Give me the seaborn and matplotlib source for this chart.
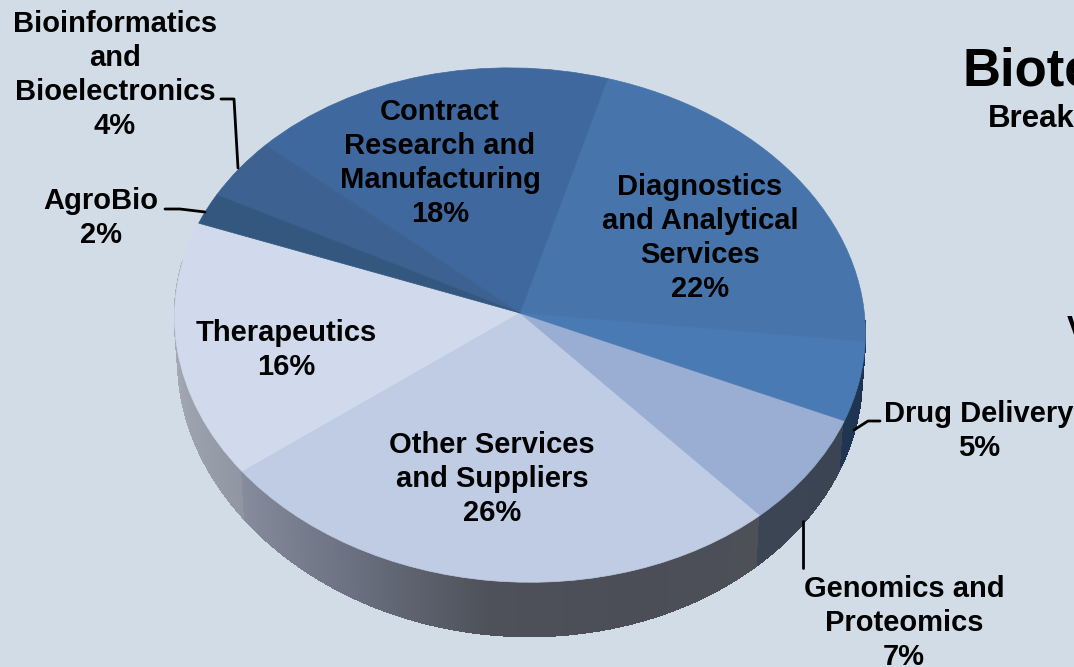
import numpy as np
import matplotlib
matplotlib.use('Agg')
import matplotlib.pyplot as plt
import seaborn as sns
from matplotlib.transforms import Transform

# datos del grafico (sentido antihorario desde Therapeutics)
sectors = ['Therapeutics', 'Other Services\nand Suppliers', 'Genomics and\nProteomics',
           'Drug Delivery', 'Diagnostics\nand Analytical\nServices',
           'Contract\nResearch and\nManufacturing', 'Bioinformatics\nand\nBioelectronics', 'AgroBio']
shares = [16, 26, 7, 5, 22, 18, 4, 2]
top_colors = ['#d0daec', '#bfcce4', '#9aaed4', '#4a7ab4', '#4774aa', '#3f689e', '#3d6190', '#345780']
wall_colors = [['#b0b5bf', '#9097a3'],
               ['#868c9c', '#6b7181', '#4e5159', '#4b4e57', '#4e5058'],
               ['#3b4554', '#3a4453'],
               ['#1f3551', '#1e3350'],
               ['#1e3350', '#1e3350'], [], [], []]

# posiciones de las etiquetas en pixeles
label_pos = [(286, 350), (492, 479), (904, 623), (979, 431), (700, 238), (440, 163), (115, 75), (101, 218)]

W, H = 1074, 667
BG = '#d1dce6'
CX, CY, RX, RY = 520, 313, 345, 256.5
PERSP, TILT = 0.047, 8
START = 161


def project(x, y):
    w = 1 + PERSP * y
    return CX + RX * x / w, CY - RY * y / w + TILT * x


class PieProjection(Transform):
    input_dims = 2
    output_dims = 2

    def transform_non_affine(self, values):
        px, py = project(values[:, 0], values[:, 1])
        return np.column_stack([px, py])


sns.set_theme(style='white')
plt.rcParams['font.family'] = ['Liberation Sans', 'DejaVu Sans']

fig = plt.figure(figsize=(W / 100, H / 100), dpi=100, facecolor=BG)
ax = fig.add_axes([0, 0, 1, 1])

wedges, _ = ax.pie(shares, colors=top_colors, startangle=START, counterclock=True, radius=1,
                   wedgeprops={'linewidth': 0.5})
ax.set_aspect('auto')
ax.set_xlim(0, W)
ax.set_ylim(H, 0)
ax.set_axis_off()

# pared lateral del pastel, por tiras y con degradado por sector
for wedge, anchors in zip(wedges, wall_colors):
    wedge.set_edgecolor(wedge.get_facecolor())
    wedge.set_transform(PieProjection() + ax.transData)
    wedge.set_zorder(3)
    t1, t2 = max(wedge.theta1, 170), min(wedge.theta2, 360)
    if t2 <= t1 or not anchors:
        continue
    steps = max(int(t2 - t1) * 2, 2)
    edges = np.radians(np.linspace(t1, t2, steps + 1))
    palette = sns.blend_palette(anchors, steps)
    px, py = project(np.cos(edges), np.sin(edges))
    bx, by = project(0.99 * np.cos(edges), np.sin(edges))
    by = by + 44 + 10 * np.sin(edges) ** 2
    for i in range(steps):
        ax.fill([px[i], px[i + 1], bx[i + 1], bx[i]],
                [py[i], py[i + 1], by[i + 1], by[i]],
                color=palette[i], linewidth=0.8, antialiased=False, zorder=2)

for name, share, (x, y) in zip(sectors, shares, label_pos):
    ax.text(x, y, f'{name}\n{share}%', ha='center', va='center', multialignment='center',
            fontsize=21, fontweight='bold', color='black', linespacing=1.26, zorder=5)

# lineas guia
guides = [([221, 234, 238], [99, 99, 168]),
          ([165, 180, 205], [209, 209, 212]),
          ([880, 868, 854], [421, 421, 430]),
          ([803, 803], [521, 568])]
for gx, gy in guides:
    ax.plot(gx, gy, color='black', lw=2, zorder=4)

# titulo cortado por el borde derecho de la imagen
ax.text(962, 85, 'Biote', fontsize=38, fontweight='bold', color='black', ha='left', va='baseline')
ax.text(988, 127, 'Break', fontsize=22.5, fontweight='bold', color='black', ha='left', va='baseline')
ax.text(1067, 338, 'V', fontsize=22.5, fontweight='bold', color='black', ha='left', va='baseline')

fig.savefig('out.png', dpi=100, facecolor=BG)
